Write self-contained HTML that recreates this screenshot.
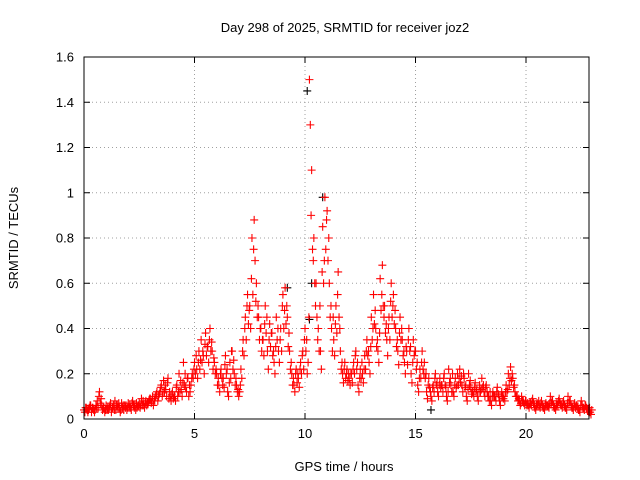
<!DOCTYPE html>
<html><head><meta charset="utf-8"><style>
body{margin:0;background:#fff;}
svg{display:block;font-family:"Liberation Sans",sans-serif;}
</style></head><body>
<svg id="chart" width="640" height="480" viewBox="0 0 640 480">
<text x="345" y="32" text-anchor="middle" font-size="13" fill="#000">Day 298 of 2025, SRMTID for receiver joz2</text>
<text x="344" y="471" text-anchor="middle" font-size="13">GPS time / hours</text>
<text transform="translate(18,238) rotate(-90)" text-anchor="middle" font-size="13">SRMTID / TECUs</text>
<g id="grid"></g><g id="ticks"></g><g id="marks"></g>
<rect x="84" y="57" width="505" height="362" fill="none" stroke="#000" stroke-width="1"/>
</svg>
<script>
const xTicks=[0,5,10,15,20];
const yTicks=[0,0.2,0.4,0.6,0.8,1,1.2,1.4,1.6];
const yTickLabels=["0","0.2","0.4","0.6","0.8","1","1.2","1.4","1.6"];
const stepHours=0.1;
const upperSeries=[0.04,0.05,0.04,0.06,0.05,0.04,0.08,0.12,0.06,0.05,
0.06,0.04,0.07,0.05,0.08,0.06,0.05,0.07,0.04,0.06,
0.07,0.05,0.08,0.06,0.05,0.07,0.09,0.06,0.08,0.07,
0.09,0.1,0.08,0.12,0.11,0.15,0.17,0.13,0.18,0.1,
0.12,0.1,0.15,0.2,0.13,0.25,0.14,0.18,0.12,0.2,
0.25,0.22,0.3,0.35,0.28,0.38,0.32,0.4,0.3,0.25,
0.2,0.15,0.22,0.18,0.28,0.12,0.25,0.3,0.2,0.15,
0.1,0.22,0.35,0.45,0.55,0.5,0.8,0.88,0.6,0.45,
0.4,0.35,0.5,0.3,0.42,0.38,0.25,0.45,0.3,0.4,
0.55,0.58,0.45,0.3,0.2,0.15,0.22,0.18,0.25,0.3,
0.4,0.2,1.5,1.1,0.8,0.6,0.4,0.3,0.85,0.98,
0.92,0.6,0.4,0.35,0.5,0.65,0.3,0.2,0.25,0.22,
0.18,0.2,0.25,0.3,0.15,0.22,0.2,0.28,0.35,0.25,
0.45,0.55,0.4,0.3,0.62,0.68,0.5,0.35,0.45,0.6,
0.55,0.4,0.3,0.45,0.35,0.25,0.3,0.4,0.2,0.35,
0.3,0.15,0.22,0.3,0.25,0.12,0.18,0.1,0.15,0.2,
0.12,0.18,0.15,0.2,0.1,0.22,0.15,0.12,0.18,0.2,
0.22,0.15,0.18,0.1,0.2,0.14,0.12,0.16,0.1,0.15,
0.18,0.12,0.15,0.1,0.08,0.12,0.1,0.14,0.08,0.12,
0.1,0.15,0.2,0.23,0.18,0.12,0.1,0.08,0.1,0.07,
0.08,0.06,0.07,0.09,0.05,0.07,0.06,0.08,0.05,0.07,
0.06,0.1,0.08,0.05,0.07,0.09,0.06,0.08,0.05,0.1,
0.08,0.05,0.07,0.06,0.04,0.08,0.05,0.06,0.04,0.03];
const midSeries=[0.05,0.03,0.06,0.05,0.03,0.05,0.1,0.09,0.05,0.04,
0.05,0.06,0.05,0.04,0.06,0.07,0.04,0.06,0.05,0.05,
0.06,0.07,0.05,0.07,0.06,0.06,0.08,0.07,0.07,0.09,
0.08,0.09,0.11,0.1,0.14,0.12,0.15,0.16,0.12,0.11,
0.1,0.14,0.12,0.17,0.16,0.2,0.18,0.15,0.18,0.22,
0.28,0.25,0.26,0.3,0.33,0.32,0.35,0.34,0.27,0.22,
0.18,0.2,0.15,0.24,0.22,0.16,0.3,0.26,0.18,0.13,
0.15,0.3,0.4,0.5,0.48,0.62,0.75,0.52,0.5,0.4,
0.35,0.42,0.45,0.35,0.38,0.3,0.32,0.4,0.35,0.5,
0.48,0.5,0.38,0.25,0.18,0.2,0.2,0.22,0.28,0.35,
0.35,0.45,0.9,0.7,0.5,0.35,0.5,0.65,0.7,0.88,
0.8,0.5,0.45,0.42,0.55,0.4,0.25,0.22,0.2,0.2,
0.2,0.22,0.28,0.25,0.18,0.25,0.22,0.3,0.3,0.32,
0.4,0.48,0.35,0.38,0.55,0.45,0.42,0.4,0.52,0.5,
0.48,0.35,0.38,0.4,0.3,0.32,0.35,0.32,0.25,0.3,
0.25,0.18,0.25,0.2,0.2,0.15,0.12,0.14,0.18,0.16,
0.15,0.15,0.18,0.14,0.12,0.18,0.2,0.15,0.15,0.18,
0.19,0.2,0.15,0.13,0.17,0.12,0.14,0.13,0.12,0.13,
0.15,0.14,0.1,0.12,0.1,0.1,0.12,0.1,0.1,0.09,
0.12,0.13,0.18,0.2,0.15,0.1,0.09,0.07,0.08,0.08,
0.07,0.07,0.08,0.06,0.06,0.08,0.07,0.05,0.06,0.06,
0.07,0.08,0.05,0.06,0.08,0.06,0.07,0.05,0.07,0.08,
0.05,0.06,0.06,0.04,0.06,0.05,0.06,0.04,0.05,0.04];
const lowerSeries=[0.03,0.04,0.05,0.03,0.04,0.06,0.05,0.07,0.04,0.03,
0.04,0.05,0.03,0.06,0.04,0.05,0.03,0.05,0.06,0.04,
0.05,0.04,0.06,0.04,0.06,0.05,0.06,0.05,0.06,0.08,
0.07,0.06,0.1,0.08,0.12,0.1,0.12,0.1,0.09,0.08,
0.09,0.08,0.1,0.12,0.1,0.15,0.12,0.1,0.15,0.18,
0.2,0.18,0.22,0.25,0.2,0.28,0.25,0.3,0.22,0.2,
0.15,0.12,0.18,0.14,0.2,0.1,0.18,0.22,0.15,0.12,
0.12,0.18,0.28,0.35,0.42,0.4,0.55,0.7,0.45,0.35,
0.3,0.28,0.38,0.22,0.32,0.28,0.2,0.35,0.25,0.3,
0.4,0.42,0.32,0.22,0.15,0.12,0.16,0.14,0.2,0.22,
0.3,0.25,1.3,0.75,0.6,0.45,0.3,0.22,0.6,0.75,
0.7,0.45,0.3,0.28,0.38,0.45,0.22,0.16,0.18,0.17,
0.15,0.16,0.2,0.22,0.12,0.18,0.16,0.22,0.28,0.2,
0.35,0.42,0.32,0.25,0.48,0.5,0.38,0.28,0.35,0.45,
0.42,0.32,0.24,0.35,0.28,0.2,0.24,0.3,0.16,0.28,
0.22,0.12,0.18,0.22,0.18,0.09,0.14,0.08,0.12,0.15,
0.1,0.14,0.12,0.15,0.08,0.16,0.12,0.1,0.14,0.15,
0.16,0.12,0.14,0.08,0.15,0.11,0.1,0.12,0.08,0.12,
0.14,0.1,0.12,0.08,0.06,0.1,0.08,0.11,0.06,0.1,
0.08,0.12,0.15,0.17,0.14,0.1,0.08,0.06,0.08,0.06,
0.06,0.05,0.06,0.07,0.04,0.06,0.05,0.06,0.04,0.06,
0.05,0.07,0.06,0.04,0.06,0.07,0.05,0.06,0.04,0.07,
0.06,0.04,0.05,0.05,0.03,0.06,0.04,0.05,0.03,0.02];
const blackPoints=[[10.1,1.45],[10.3,0.6],[10.8,0.98],[9.2,0.58],[15.7,0.04],[10.2,0.44]];

const NS="http://www.w3.org/2000/svg";
const X0=84,X1=589,Y0=419,Y1=57,XMAX=22.85,YMAX=1.6;
function xs(v){return X0+v/XMAX*(X1-X0);}
function ys(v){return Y0-v/YMAX*(Y0-Y1);}
function mk(tag,attrs,parent){const e=document.createElementNS(NS,tag);for(const k in attrs)e.setAttribute(k,attrs[k]);parent.appendChild(e);return e;}
const grid=document.getElementById('grid'),ticks=document.getElementById('ticks'),marks=document.getElementById('marks');
xTicks.forEach(t=>{
  const x=xs(t);
  if(t>0){const g=mk('line',{x1:x,x2:x,y1:Y0,y2:Y1,stroke:'#a0a0a0','stroke-dasharray':'1,3'},grid);
  
  }
  mk('line',{x1:x,x2:x,y1:Y0,y2:Y0-6,stroke:'#000'},ticks);
  mk('line',{x1:x,x2:x,y1:Y1,y2:Y1+6,stroke:'#000'},ticks);
  const l=mk('text',{x:x,y:Y0+19,'text-anchor':'middle','font-size':'13'},ticks);l.textContent=t;
  
  
});
yTicks.forEach((t,i)=>{
  const y=ys(t);
  if(t>0&&t<YMAX){const g=mk('line',{x1:X0,x2:X1,y1:y,y2:y,stroke:'#a0a0a0','stroke-dasharray':'1,3'},grid);
  
  }
  mk('line',{x1:X0,x2:X0+6,y1:y,y2:y,stroke:'#000'},ticks);
  mk('line',{x1:X1,x2:X1-6,y1:y,y2:y,stroke:'#000'},ticks);
  const l=mk('text',{x:X0-10,y:y+4.5,'text-anchor':'end','font-size':'13'},ticks);l.textContent=yTickLabels[i];
  
  
});
function plus(t,v,color){
  const x=xs(t),y=ys(v);
  const p=mk('path',{d:`M${x-4},${y}h8M${x},${y-4}v8`,stroke:color,'stroke-width':'1.1',fill:'none'},marks);
  
  
}
blackPoints.forEach(p=>plus(p[0],p[1],'#000'));
upperSeries.forEach((v,i)=>plus(i*stepHours,v,'#ff0000'));
midSeries.forEach((v,i)=>plus(i*stepHours+0.075,v,'#ff0000'));
lowerSeries.forEach((v,i)=>plus(i*stepHours+0.04,v,'#ff0000'));
</script>
</body></html>
